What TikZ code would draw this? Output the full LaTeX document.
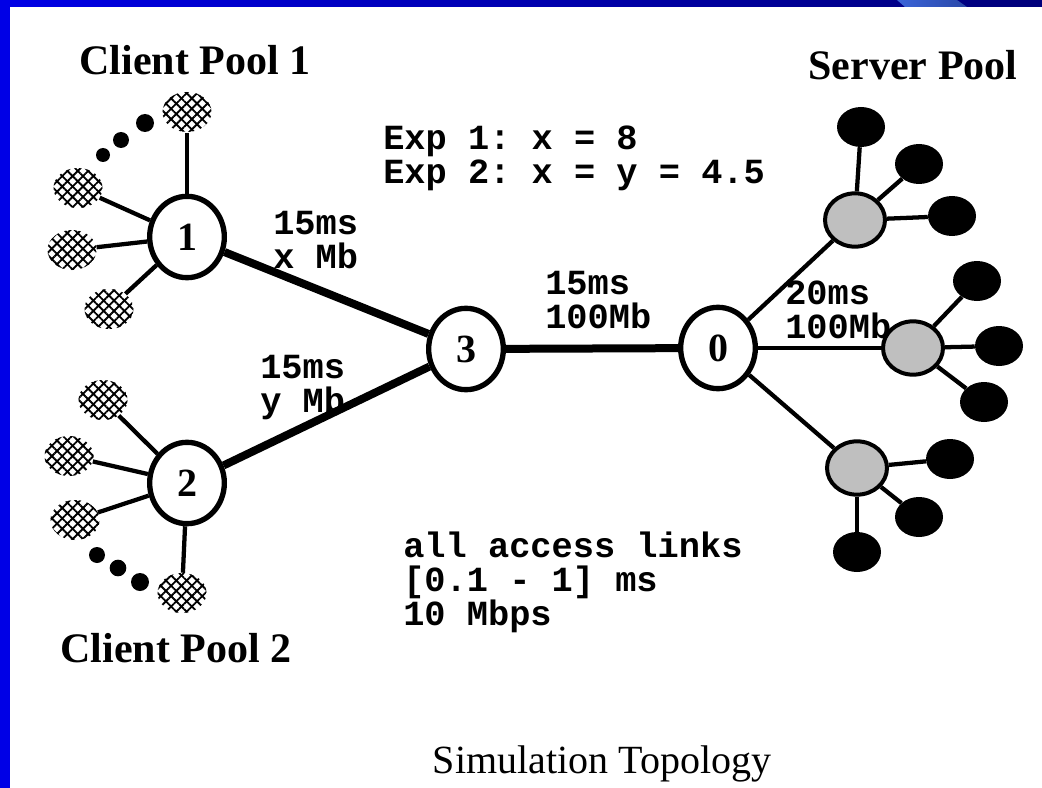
\documentclass[tikz,border=0pt]{standalone}
\usepackage{fontspec}
\setmainfont{Liberation Serif}
\setmonofont{Liberation Mono}
\usetikzlibrary{shapes.geometric,patterns.meta}
\definecolor{slideblue}{HTML}{0000E6}
\definecolor{slidenavy}{HTML}{00007A}
\definecolor{stripelight}{HTML}{3A64D8}
\definecolor{stripedark}{HTML}{2A48A8}
\begin{document}
\begin{tikzpicture}[x=0.75pt,y=-0.75pt,
  hub/.style={ellipse,draw,line width=4pt,fill=white,minimum width=56pt,minimum height=61pt,inner sep=0pt,font=\bfseries\fontsize{30}{30}\selectfont},
  router/.style={ellipse,draw,line width=3pt,fill=black!25,minimum width=45pt,minimum height=40pt,inner sep=0pt},
  server/.style={ellipse,fill=black,minimum width=36pt,minimum height=30pt,inner sep=0pt},
  client/.style={ellipse,minimum width=36.75pt,minimum height=30pt,inner sep=0pt,
    preaction={pattern={Lines[angle=45,distance=5.5pt,line width=1.4pt]}},pattern={Lines[angle=-45,distance=5.5pt,line width=1.4pt]}},
  moredot/.style={circle,fill=black,inner sep=0pt},
  core/.style={line width=6pt},
  access/.style={line width=3.2pt},
  pool/.style={font=\bfseries\fontsize{31.5}{32}\selectfont,inner sep=0pt,anchor=base},
  lbl/.style={font=\ttfamily\bfseries\frenchspacing\fontsize{26.5}{25.5}\selectfont,align=left,inner sep=0pt,anchor=north west}]
\fill[white] (0,0) rectangle (1042,788);
\shade[left color=slideblue,right color=slidenavy] (0,0) rectangle (1042,7);
\shade[left color=stripelight,right color=stripedark] (897,0)--(957,0)--(967,7)--(905,7)--cycle;
\fill[slideblue] (0,0) rectangle (10,788);
\node[pool] (pool1) at (195,75) {Client Pool 1};
\node[pool] (pool2) at (176,662) {Client Pool 2};
\node[pool] (spool) at (913,80) {Server Pool};
\node[font=\fontsize{30}{30}\selectfont,inner sep=0pt,anchor=base] (title) at (602,773) {Simulation Topology};
\node[lbl] (exp) at (383,126) {Exp 1: x = 8\\Exp 2: x = y = 4.5};
\node[lbl] (lk13) at (273,211) {15ms\\x Mb};
\node[lbl] (lk23) at (260,355) {15ms\\y Mb};
\node[lbl] (lk30) at (545,271) {15ms\\100Mb};
\node[lbl] (lk0r) at (785,281) {20ms\\100Mb};
\node[lbl] (acc) at (403,532) {all access links\\{}[0.1 - 1] ms\\10 Mbps};
\node[hub] (n1) at (187,237) {1};\node[hub] (n2) at (187,483) {2};
\node[hub] (n3) at (466,349) {3};\node[hub] (n0) at (718,348) {0};
\node[router] (r1) at (855,220) {};\node[router] (r2) at (913,348) {};\node[router] (r3) at (857,468) {};
\node[server] (s1) at (861,127) {};\node[server] (s2) at (919,164) {};\node[server] (s3) at (952,216) {};
\node[server] (s4) at (977,281) {};\node[server] (s5) at (999,346) {};\node[server] (s6) at (984,402) {};
\node[server] (s7) at (950,459) {};\node[server] (s8) at (919,517) {};\node[server] (s9) at (857,552) {};
\node[client] (c1) at (187,112) {};\node[client] (c2) at (78,188) {};\node[client] (c3) at (72,250) {};\node[client] (c4) at (109,309) {};
\node[client] (c5) at (103,400) {};\node[client] (c6) at (69,456) {};\node[client] (c7) at (75,520) {};\node[client] (c8) at (182,593) {};
\node[moredot,minimum size=10.5pt] (d1) at (103,155) {};\node[moredot,minimum size=12pt] (d2) at (121,140) {};\node[moredot,minimum size=13.5pt] (d3) at (145,123) {};
\node[moredot,minimum size=12pt] (d4) at (97,555) {};\node[moredot,minimum size=12.5pt] (d5) at (118,568) {};\node[moredot,minimum size=13.5pt] (d6) at (140,582) {};
\draw[core] (n1)--(n3);\draw[core] (n2)--(n3);\draw[core] (n3)--(n0);
\draw[access] (n0)--(r1);\draw[access] (n0)--(r2);\draw[access] (n0)--(r3);
\draw[access] (r1)--(s1);\draw[access] (r1)--(s2);\draw[access] (r1)--(s3);
\draw[access] (r2)--(s4);\draw[access] (r2)--(s5);\draw[access] (r2)--(s6);
\draw[access] (r3)--(s7);\draw[access] (r3)--(s8);\draw[access] (r3)--(s9);
\draw[access] (c1)--(n1);\draw[access] (c2)--(n1);\draw[access] (c3)--(n1);\draw[access] (c4)--(n1);
\draw[access] (c5)--(n2);\draw[access] (c6)--(n2);\draw[access] (c7)--(n2);\draw[access] (c8)--(n2);
\end{tikzpicture}
\end{document}
